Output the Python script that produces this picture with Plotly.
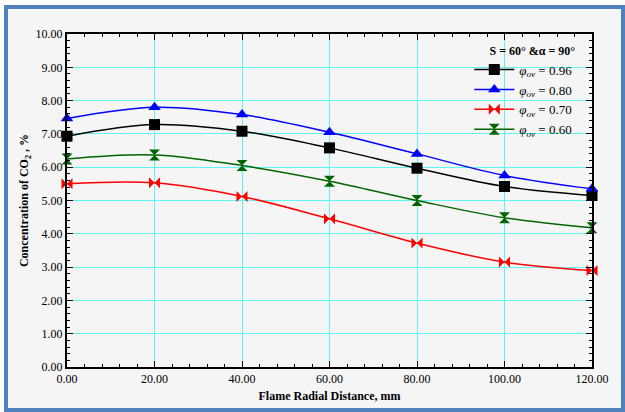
import plotly.graph_objects as go

# Radial positions across the flame (mm)
distance_mm = [0, 20, 40, 60, 80, 100, 120]

# CO2 concentration (%) for each overall equivalence ratio
co2_096 = [6.93, 7.28, 7.08, 6.58, 5.97, 5.42, 5.15]
co2_080 = [7.46, 7.80, 7.58, 7.05, 6.40, 5.75, 5.35]
co2_070 = [5.50, 5.53, 5.12, 4.45, 3.72, 3.15, 2.90]
co2_060 = [6.25, 6.37, 6.05, 5.58, 5.00, 4.48, 4.18]

series_labels = ["0.96", "0.80", "0.70", "0.60"]
series_values = [co2_096, co2_080, co2_070, co2_060]
series_colors = ["#000000", "#0000ff", "#ff0000", "#006400"]
series_symbols = ["square", "triangle-up", "bowtie", "hourglass"]

x_ticks = [0, 20, 40, 60, 80, 100, 120]
y_ticks = [0, 1, 2, 3, 4, 5, 6, 7, 8, 9, 10]

fig = go.Figure()

for label, vals, color, sym in zip(series_labels, series_values, series_colors, series_symbols):
    fig.add_trace(go.Scatter(
        x=distance_mm, y=vals,
        mode="lines+markers",
        line=dict(color=color, width=1.5, shape="spline", smoothing=1.0),
        marker=dict(symbol=sym, size=11, color=color, line=dict(width=0)),
        name=f"<i>φ<sub>ov</sub></i> = {label}",
        cliponaxis=False,
    ))

serif = "Liberation Serif, Times New Roman, serif"
grid_color = "#5ff5f5"

fig.update_layout(
    width=625, height=412,
    margin=dict(l=67, r=33, t=34, b=45),
    paper_bgcolor="#ffffff",
    plot_bgcolor="#f5f5f5",
    font=dict(family=serif, size=12, color="#000000"),
    showlegend=True,
    legend=dict(
        x=0.972, y=0.985, xanchor="right", yanchor="top",
        bgcolor="rgba(0,0,0,0)",
        font=dict(family=serif, size=13, color="#000000"),
        itemwidth=40,
        tracegroupgap=0,
        title=dict(text="<b>S = 60° &α = 90°</b>",
                   font=dict(family=serif, size=12, color="#000000"),
                   side="top right"),
    ),
    shapes=[
        # framed panel around the whole chart
        dict(type="rect", xref="paper", yref="paper", layer="below",
             x0=-61/525, x1=1 + 31/525, y0=-43/333, y1=1 + 27/333,
             line=dict(color="#4f81bd", width=4), fillcolor="#f5f5f5"),
    ],
)

fig.update_xaxes(
    range=[0, 120],
    tickvals=x_ticks,
    ticktext=[f"{v:.2f}" for v in x_ticks],
    ticks="inside", ticklen=6, tickwidth=1, tickcolor="#000000",
    minor=dict(dtick=4, ticks="inside", ticklen=3, tickcolor="#000000", showgrid=False),
    showline=True, linecolor="#000000", linewidth=2, mirror="ticks",
    showgrid=True, gridcolor=grid_color, gridwidth=1,
    zeroline=False,
    tickfont=dict(family=serif, size=12),
    title=dict(text="<b>Flame Radial Distance, mm</b>", font=dict(family=serif, size=12), standoff=6),
)

fig.update_yaxes(
    range=[0, 10],
    tickvals=y_ticks,
    ticktext=[f"{v:.2f}" for v in y_ticks],
    ticks="inside", ticklen=6, tickwidth=1, tickcolor="#000000",
    minor=dict(dtick=0.2, ticks="inside", ticklen=3, tickcolor="#000000", showgrid=False),
    showline=True, linecolor="#000000", linewidth=2, mirror="ticks",
    showgrid=True, gridcolor=grid_color, gridwidth=1,
    zeroline=False,
    tickfont=dict(family=serif, size=12),
    title=dict(text="<b>Concentration of CO<sub>2</sub> , %</b>", font=dict(family=serif, size=12), standoff=4),
)

fig.write_html("out.html")
